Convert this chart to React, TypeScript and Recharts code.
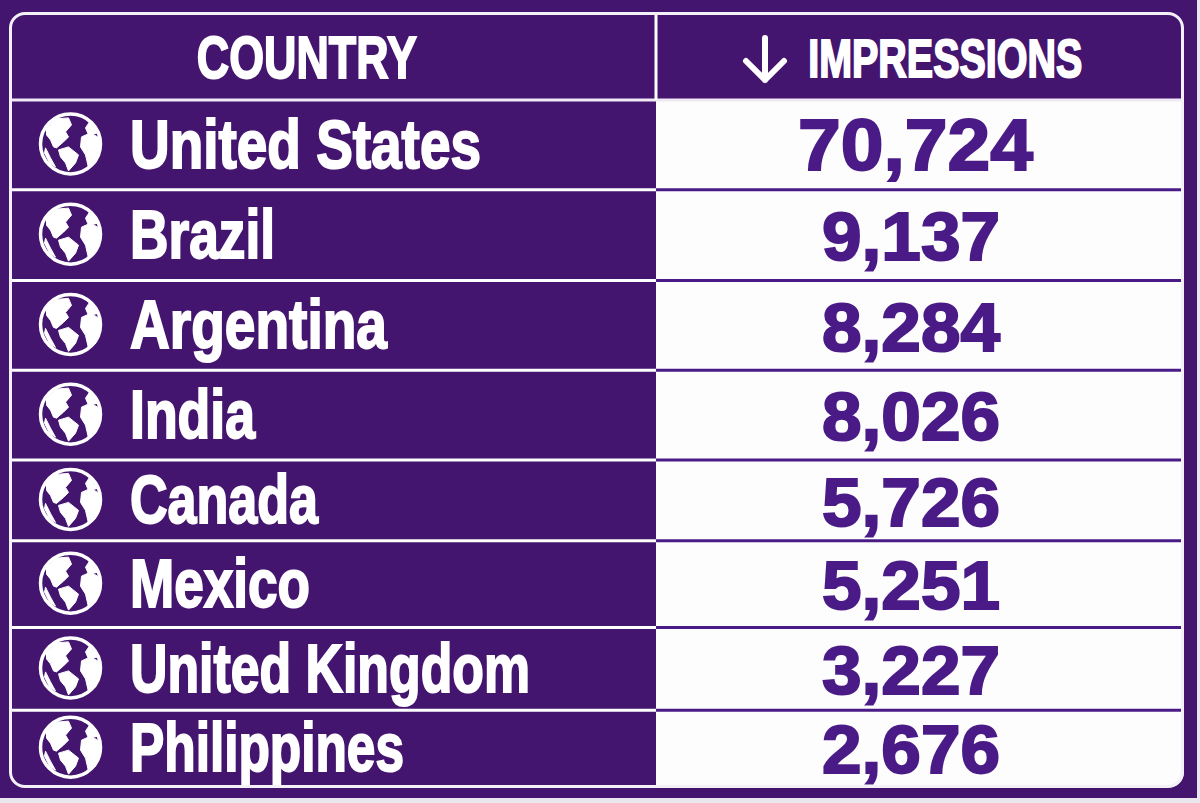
import { Bar, BarChart, XAxis, YAxis } from 'recharts';

const countries = [
  'United States',
  'Brazil',
  'Argentina',
  'India',
  'Canada',
  'Mexico',
  'United Kingdom',
  'Philippines',
];
const impressions = [70724, 9137, 8284, 8026, 5726, 5251, 3227, 2676];
const headers = ['COUNTRY', 'IMPRESSIONS'];
const headerTicks = [25280, 79660];

const tableData = countries.map((country, i) => ({ country, impressions: impressions[i] }));

const PURPLE = '#44156f';
const INK = '#4a1b87';
const FONT = '"Liberation Sans", sans-serif';

const COLUMN_X = 656;
// rows in the table are not quite even, so nudge the band edges onto the ruled lines
const EDGE_SHIFT = [0, 4, 9, 13, 17, 12, 13, 10, 0];
// no condensed face is installed, so squeeze the bold one to the reference widths
const NAME_WIDTHS = [351, 145, 257, 125, 188, 180, 400, 274];
const HEADER_WIDTHS = [220, 274];

function rowCentreShift(i: number) {
  return (EDGE_SHIFT[i] + EDGE_SHIFT[i + 1]) / 2;
}

function Globe({ cx, cy }: { cx: number; cy: number }) {
  return (
    <g transform={`translate(${cx},${cy})`}>
      <circle r={30} fill="none" stroke="#fff" strokeWidth={3.5} />
      <g fill="#fff" stroke="#fff" strokeWidth={1} strokeLinejoin="round">
        <path d="M-24,-16 L-15,-25 L-2,-26 L1,-19 L-5,-12 L-2,-7 L-7,-2 L-14,4 L-17,3 L-20,-4 L-24,-9 Z" />
        <path d="M-12,6 L-2,3 L8,11 L5,19 L-2,27 L-5,19 L-10,13 Z" />
        <path d="M11,-7 L20,-11 L29,-6 L29,4 L25,19 L18,24 L15,11 L10,3 Z" />
        <path d="M15,-16 L19,-22 L25,-14 L28,-11 L18,-9 Z" />
        <path d="M-25,4 L-20,14 L-15,23 L-21,19 L-26,9 Z" />
      </g>
    </g>
  );
}

function CountryTick(props: any) {
  const { y = 0, index = 0, payload } = props;
  const cy = y + rowCentreShift(index);
  return (
    <g>
      <Globe cx={70.5} cy={cy - 1} />
      <text
        x={130}
        y={cy + 23}
        fill="#fff"
        stroke="#fff"
        strokeWidth={2}
        fontFamily={FONT}
        fontWeight={700}
        fontSize={68}
        textLength={NAME_WIDTHS[index]}
        lengthAdjust="spacingAndGlyphs"
      >
        {payload?.value}
      </text>
    </g>
  );
}

function HeaderTick(props: any) {
  const { x = 0, index = 0 } = props;
  const first = index === 0;
  return (
    <g>
      {!first && <line x1={COLUMN_X} x2={COLUMN_X} y1={13} y2={100} stroke="#fff" strokeWidth={3} />}
      {!first && (
        <path
          d="M765,38 L765,80 M746,61 L765,80 L784,61"
          fill="none"
          stroke="#fff"
          strokeWidth={6}
          strokeLinecap="round"
          strokeLinejoin="round"
        />
      )}
      <text
        x={x}
        y={first ? 78 : 77}
        textAnchor="middle"
        fill="#fff"
        stroke="#fff"
        strokeWidth={2}
        fontFamily={FONT}
        fontWeight={700}
        fontSize={first ? 60 : 53}
        textLength={HEADER_WIDTHS[index]}
        lengthAdjust="spacingAndGlyphs"
      >
        {headers[index]}
      </text>
    </g>
  );
}

function RowCell(props: any) {
  const { y, height, index, payload } = props;
  const top = y + EDGE_SHIFT[index];
  const bottom = y + height + EDGE_SHIFT[index + 1];
  const mid = (top + bottom) / 2;
  const big = index === 0;
  return (
    <g>
      <rect x={COLUMN_X} y={top} width={1185 - COLUMN_X} height={bottom - top} fill="#fdfdfe" />
      {index === 0 ? (
        <line x1={9} x2={1185} y1={top} y2={top} stroke="#efe9f6" strokeWidth={3} />
      ) : (
        <>
          <line x1={9} x2={COLUMN_X} y1={top} y2={top} stroke="#fff" strokeWidth={3} />
          <line x1={COLUMN_X} x2={1182} y1={top} y2={top} stroke={INK} strokeWidth={3} />
        </>
      )}
      <text
        x={big ? 915.5 : 911}
        y={mid + 25}
        textAnchor="middle"
        fill={INK}
        stroke={INK}
        strokeWidth={2}
        fontFamily={FONT}
        fontWeight={700}
        fontSize={big ? 73 : 68}
        textLength={big ? 235 : 178}
        lengthAdjust="spacingAndGlyphs"
      >
        {payload.impressions.toLocaleString('en-US')}
      </text>
    </g>
  );
}

export default function App() {
  return (
    <div style={{ position: 'absolute', left: 0, top: 0, width: 1200, height: 803, background: '#e9e6ee' }}>
      <div style={{ position: 'absolute', left: 0, top: 0, width: 1197, height: 798, background: PURPLE }} />
      <div
        style={{
          position: 'absolute',
          left: 9,
          top: 12,
          width: 1175,
          height: 776,
          borderRadius: 16,
          overflow: 'hidden',
        }}
      >
        <div style={{ position: 'absolute', left: -9, top: -12 }}>
          <BarChart
            width={1200}
            height={803}
            data={tableData}
            layout="vertical"
            barCategoryGap={0}
            margin={{ top: 13, right: 16, bottom: 17, left: 9 }}
          >
            <XAxis
              orientation="top"
              type="number"
              domain={[0, 100000]}
              ticks={headerTicks}
              height={87}
              interval={0}
              axisLine={false}
              tickLine={false}
              tick={(p: any) => <HeaderTick {...p} />}
            />
            <YAxis
              type="category"
              dataKey="country"
              width={1}
              interval={0}
              axisLine={false}
              tickLine={false}
              tick={(p: any) => <CountryTick {...p} />}
            />
            <Bar dataKey="impressions" isAnimationActive={false} shape={<RowCell />} />
          </BarChart>
        </div>
      </div>
      <div
        style={{
          position: 'absolute',
          left: 9,
          top: 12,
          width: 1175,
          height: 776,
          boxSizing: 'border-box',
          border: '3px solid #f4f0f8',
          borderRadius: 16,
          pointerEvents: 'none',
        }}
      />
    </div>
  );
}
